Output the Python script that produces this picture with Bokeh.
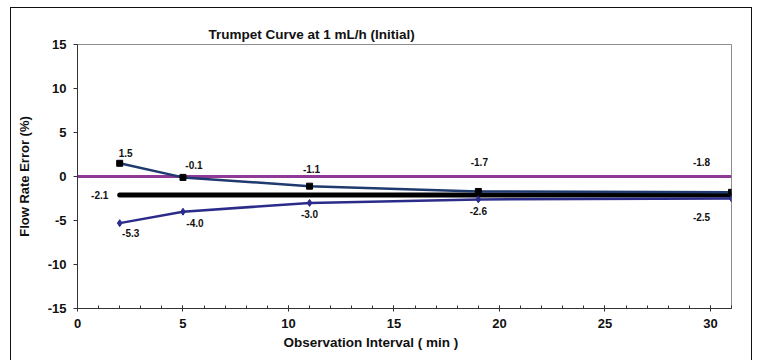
from bokeh.plotting import figure
from bokeh.models import Range1d, FixedTicker, Title, ColumnDataSource, CustomJSTickFormatter
from bokeh.embed import file_html
from bokeh.resources import INLINE
from bokeh.core.properties import value

# ---- data ----
intervals = [2, 5, 11, 19, 31]
max_error = [1.5, -0.1, -1.1, -1.7, -1.8]
min_error = [-5.3, -4.0, -3.0, -2.6, -2.5]
mean_error = -2.1
x_ticks = [0, 5, 10, 15, 20, 25, 30]
y_ticks = [-15, -10, -5, 0, 5, 10, 15]
title_text = "Trumpet Curve at 1 mL/h (Initial)"
x_label = "Observation Interval ( min )"
y_label = "Flow Rate Error (%)"

# ---- label offsets (style) ----
max_dx = [6, 11, 2, 1, -30]
max_dy = [-10, -12, -17, -29, -30]
min_dx = [11, 12, 0, 0, -30]
min_dy = [10, 11, 11, 12, 18]

FONT = "Liberation Sans"

p = figure(width=742, height=353, output_backend="svg", toolbar_location=None,
           x_range=Range1d(0, 31), y_range=Range1d(-15, 15),
           min_border_left=66, min_border_right=22, min_border_top=36, min_border_bottom=53)
p.margin = (7, 0, 0, 10)
p.styles = {"border-left": "1px solid #111", "border-top": "1px solid #111", "border-right": "1px solid #111"}
p.xgrid.visible = False
p.ygrid.visible = False
p.outline_line_color = "#8c8c8c"
p.outline_line_width = 1
p.background_fill_color = "white"
p.border_fill_color = "white"

xa = p.xaxis[0]
xa.ticker = FixedTicker(ticks=x_ticks, minor_ticks=list(range(0, 32)))
xa.formatter = CustomJSTickFormatter(code="return tick.toFixed(0);")
xa.major_tick_in = 3
xa.major_tick_out = 3
xa.minor_tick_in = 3
xa.minor_tick_out = 0
xa.axis_line_color = "#333333"
xa.major_tick_line_color = "#333333"
xa.minor_tick_line_color = "#333333"
xa.major_label_text_font = FONT
xa.major_label_text_font_style = "bold"
xa.major_label_text_font_size = "13px"
xa.major_label_text_color = "#111111"
xa.major_label_standoff = 7

ya = p.yaxis[0]
ya.ticker = FixedTicker(ticks=y_ticks)
ya.formatter = CustomJSTickFormatter(code="return tick.toFixed(0);")
ya.major_tick_in = 0
ya.major_tick_out = 4
ya.minor_tick_line_color = None
ya.axis_line_color = "#333333"
ya.major_tick_line_color = "#333333"
ya.major_label_text_font = FONT
ya.major_label_text_font_style = "bold"
ya.major_label_text_font_size = "13px"
ya.major_label_text_color = "#111111"
ya.major_label_standoff = 7
ya.axis_label = y_label
ya.axis_label_text_font = FONT
ya.axis_label_text_font_style = "bold"
ya.axis_label_text_font_size = "13px"
ya.axis_label_text_color = "#111111"
ya.axis_label_standoff = 13

# titles
p.title = Title(text=title_text, align="left", offset=131, standoff=6,
                text_font=FONT, text_font_style="bold", text_font_size="13.5px", text_color="#111111")
p.add_layout(Title(text=x_label, align="left", offset=206, standoff=4,
                   text_font=FONT, text_font_style="bold", text_font_size="13.5px", text_color="#111111"),
             "below")

# zero reference line
p.line([0, 31], [0, 0], line_color="#8e3a96", line_width=3)

# mean line
p.line([intervals[0], intervals[-1]], [mean_error, mean_error], line_color="black", line_width=5, line_cap="round")

# max series
p.line(intervals, max_error, line_color="#1f3a6e", line_width=2.5)
p.scatter(intervals, max_error, marker="square", size=6, fill_color="black", line_color="black")

# min series
p.line(intervals, min_error, line_color="#2b2b8a", line_width=2.5)
p.scatter(intervals, min_error, marker="diamond", size=7, fill_color="#2b2b8a", line_color="#2b2b8a")

def fmt(v):
    return f"{v:.1f}"

src_max = ColumnDataSource(dict(x=intervals, y=max_error, t=[fmt(v) for v in max_error], dx=max_dx, dy=max_dy))
src_min = ColumnDataSource(dict(x=intervals, y=min_error, t=[fmt(v) for v in min_error], dx=min_dx, dy=min_dy))
for src in (src_max, src_min):
    p.text(x="x", y="y", text="t", x_offset="dx", y_offset="dy", source=src,
           text_font=value(FONT), text_font_style="bold", text_font_size="10px",
           text_color="#111111", text_align="center", text_baseline="middle")

p.text(x=[intervals[0]], y=[mean_error], text=[fmt(mean_error)], x_offset=-20, y_offset=0,
       text_font=value(FONT), text_font_style="bold", text_font_size="10px",
       text_color="#111111", text_align="center", text_baseline="middle")

open("out.html", "w").write(file_html(p, INLINE))
